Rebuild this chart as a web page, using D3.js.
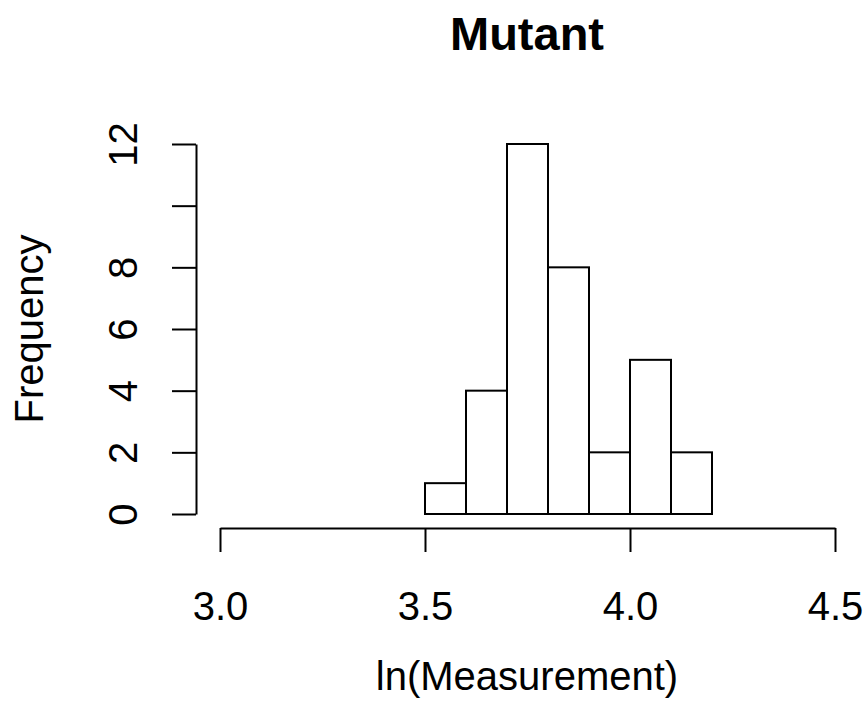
<!DOCTYPE html>
<html>
<head>
<meta charset="utf-8">
<script src="https://cdn.jsdelivr.net/npm/d3@7"></script>
<style>
  html, body { margin: 0; padding: 0; background: #fff; }
  svg { display: block; font-family: "Liberation Sans", Arial, Helvetica, sans-serif; }
</style>
</head>
<body>
<svg id="chart" width="868" height="721"></svg>
<script>
// Histogram of ln(Measurement) for the mutant group
const binEdges = [3.5, 3.6, 3.7, 3.8, 3.9, 4.0, 4.1, 4.2];
const binCounts = [1, 4, 12, 8, 2, 5, 2];
const xTicks = [3.0, 3.5, 4.0, 4.5];
const yTicks = [0, 2, 4, 6, 8, 10, 12];
const yTickLabels = ["0", "2", "4", "6", "8", "", "12"];
const titleText = "Mutant";
const xTitle = "ln(Measurement)";
const yTitle = "Frequency";

const svg = d3.select("#chart");

const x = d3.scaleLinear().domain([3.0, 4.5]).range([220, 835]);
const y = d3.scaleLinear().domain([0, 12]).range([514, 144]);

const bins = binCounts.map((c, i) => ({ x0: binEdges[i], x1: binEdges[i + 1], count: c }));

// bars
svg.append("g")
  .selectAll("rect")
  .data(bins)
  .join("rect")
  .attr("x", d => x(d.x0))
  .attr("y", d => y(d.count))
  .attr("width", d => x(d.x1) - x(d.x0))
  .attr("height", d => y(0) - y(d.count))
  .attr("fill", "#fff")
  .attr("stroke", "#000")
  .attr("stroke-width", 2);

// x axis
const gx = svg.append("g")
  .attr("transform", "translate(0,528)")
  .call(d3.axisBottom(x).tickValues(xTicks).tickFormat(d3.format(".1f")).tickSize(24).tickSizeOuter(0));
gx.select(".domain").attr("stroke-width", 2);
gx.selectAll(".tick line").attr("stroke-width", 2);
gx.selectAll(".tick text")
  .attr("y", 92).attr("dy", 0)
  .attr("font-size", 40).attr("fill", "#000")
  .attr("font-family", "Liberation Sans, Arial, sans-serif");

// y axis
const gy = svg.append("g")
  .attr("transform", "translate(196,0)")
  .call(d3.axisLeft(y).tickValues(yTicks).tickFormat((d, i) => yTickLabels[i]).tickSize(24).tickSizeOuter(0));
gy.select(".domain").attr("stroke-width", 2);
gy.selectAll(".tick line").attr("stroke-width", 2);
gy.selectAll(".tick text")
  .attr("x", 0).attr("y", 0).attr("dy", 0)
  .attr("text-anchor", "middle")
  .attr("transform", "translate(-59,0) rotate(-90)")
  .attr("font-size", 40).attr("fill", "#000")
  .attr("font-family", "Liberation Sans, Arial, sans-serif");

// titles
svg.append("text")
  .attr("x", 527).attr("y", 50)
  .attr("text-anchor", "middle")
  .attr("font-size", 47).attr("font-weight", "bold")
  .text(titleText);

svg.append("text")
  .attr("x", 527).attr("y", 690)
  .attr("text-anchor", "middle")
  .attr("font-size", 40)
  .text(xTitle);

svg.append("text")
  .attr("transform", "translate(43,329) rotate(-90)")
  .attr("text-anchor", "middle")
  .attr("font-size", 40)
  .text(yTitle);
</script>
</body>
</html>
